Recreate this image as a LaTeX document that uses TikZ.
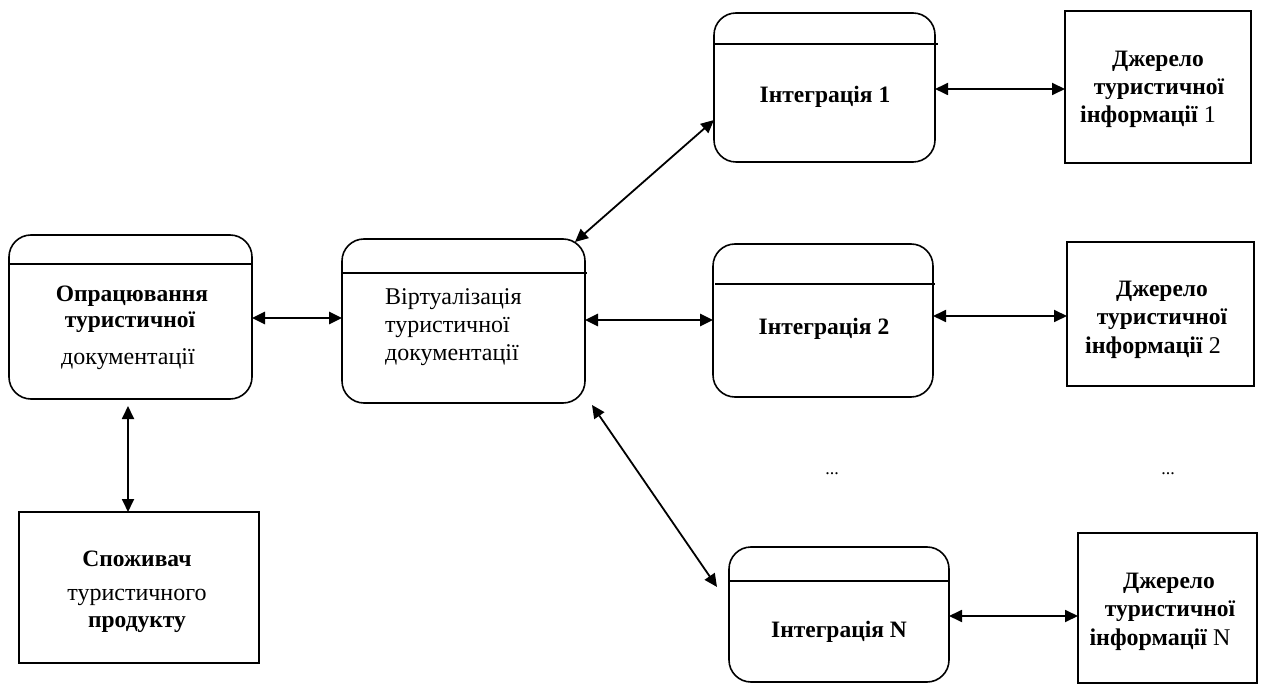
\documentclass[tikz,border=0pt]{standalone}
\usepackage{fontspec}
\setmainfont{Liberation Serif}
\usetikzlibrary{arrows.meta}
\begin{document}
\begin{tikzpicture}[x=1pt,y=-1pt,
  rbox/.style={draw,line width=1.6pt,rounded corners=22pt,inner sep=0pt,outer sep=0pt},
  sbox/.style={draw,line width=1.6pt,inner sep=0pt,outer sep=0pt},
  divline/.style={line width=1.2pt},
  conn/.style={line width=1.8pt,{Triangle[length=13pt,width=12pt]}-{Triangle[length=13pt,width=12pt]}},
  thickconn/.style={conn,line width=2.8pt},
  lbl/.style={font=\fontsize{24}{28}\selectfont,inner sep=0pt,anchor=base},
  blbl/.style={lbl,font=\fontsize{23.5}{28}\selectfont\bfseries},
  dotlbl/.style={font=\fontsize{18}{20}\selectfont,inner sep=0pt,anchor=base},
]
\useasboundingbox (0,0) rectangle (1261,684);

% boxes
\node[rbox,minimum width=243pt,minimum height=164pt] (op) at (130.5,317) {};
\node[rbox,minimum width=243pt,minimum height=164pt] (virt) at (463.5,321) {};
\node[rbox,minimum width=221pt,minimum height=149pt] (int1) at (824.5,87.5) {};
\node[rbox,minimum width=220pt,minimum height=153pt] (int2) at (823,320.5) {};
\node[rbox,minimum width=220pt,minimum height=135pt] (intN) at (839,614.5) {};
\node[sbox,minimum width=186pt,minimum height=152pt] (src1) at (1158,87) {};
\node[sbox,minimum width=187pt,minimum height=144pt] (src2) at (1160.5,314) {};
\node[sbox,minimum width=179pt,minimum height=150pt] (srcN) at (1167.5,608) {};
\node[sbox,minimum width=240pt,minimum height=151pt] (cons) at (139,587.5) {};

% dividers
\draw[divline] (9,264) -- (252,264);
\draw[divline] (342,273) -- (587,273);
\draw[divline] (714,44) -- (938,44);
\draw[divline] (715,284) -- (935,284);
\draw[divline] (729,581) -- (949,581);

% texts
\node[blbl] (op1) at (132,302) {Опрацювання};
\node[blbl] (op2) at (130,328) {туристичної};
\node[lbl]  (op3) at (128,365) {документації};

\node[lbl,anchor=base west] (v1) at (385,305) {Віртуалізація};
\node[lbl,anchor=base west] (v2) at (385,333) {туристичної};
\node[lbl,anchor=base west] (v3) at (385,361) {документації};

\node[blbl] (i1) at (825,103) {Інтеграція 1};
\node[blbl] (i2) at (824,335) {Інтеграція 2};
\node[blbl] (iN) at (839,637) {Інтеграція N};

\node[blbl] (s11) at (1158,67) {Джерело};
\node[blbl] (s12) at (1159,95) {туристичної};
\node[lbl]  (s13) at (1148,123) {\textbf{інформації} 1};

\node[blbl] (s21) at (1162,297) {Джерело};
\node[blbl] (s22) at (1162,325) {туристичної};
\node[lbl]  (s23) at (1153,354) {\textbf{інформації} 2};

\node[blbl] (sN1) at (1169,588) {Джерело};
\node[blbl] (sN2) at (1170,616) {туристичної};
\node[lbl]  (sN3) at (1160,645) {\textbf{інформації} N};

\node[blbl] (c1) at (137,566) {Споживач};
\node[lbl]  (c2) at (137,600) {туристичного};
\node[blbl] (c3) at (137,627) {продукту};

\node[dotlbl] (d1) at (832,474) {...};
\node[dotlbl] (d2) at (1168,474) {...};

% connectors
\draw[thickconn] (op.east |- 0,318) -- (virt.west |- 0,318);
\draw[thickconn] (virt.east |- 0,320) -- (int2.west |- 0,320);
\draw[conn] ([shift={(-10,3)}]virt.north east) -- (int1.west |- 0,120);
\draw[conn] ([shift={(7,2)}]virt.south east) -- ([shift={(-12,40)}]intN.north west);
\draw[conn] (int1.east |- 0,89) -- (src1.west |- 0,89);
\draw[conn] (int2.east |- 0,316) -- (src2.west |- 0,316);
\draw[conn] (intN.east |- 0,616) -- (srcN.west |- 0,616);
\draw[conn,shorten <=7pt] (op.south -| 128,0) -- (cons.north -| 128,0);
\end{tikzpicture}
\end{document}
